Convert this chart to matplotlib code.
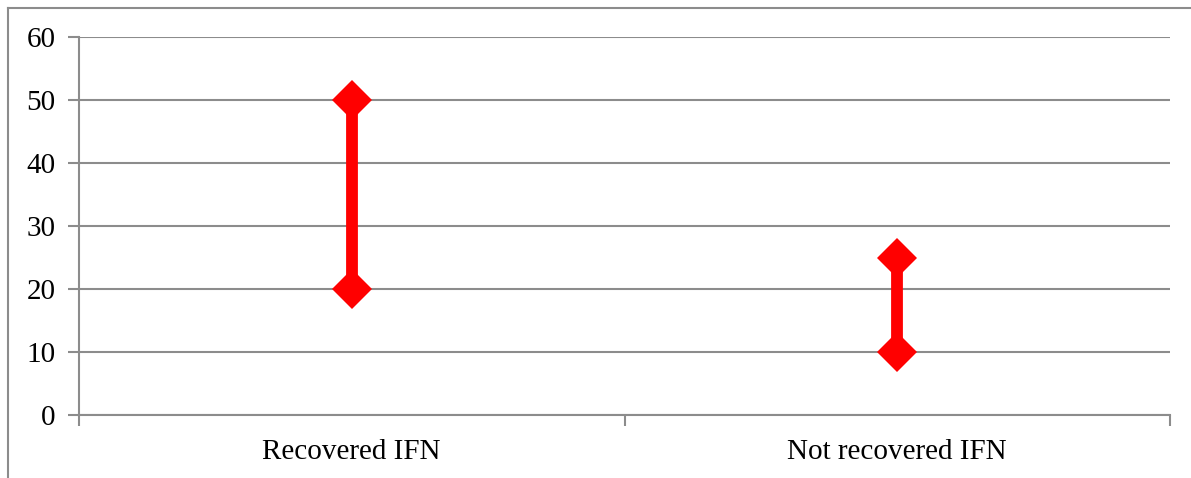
import numpy as np
import matplotlib.pyplot as plt
from matplotlib.lines import Line2D

categories = ['Recovered IFN', 'Not recovered IFN']
low_vals = [20, 10]
high_vals = [50, 25]
yticks = [0, 10, 20, 30, 40, 50, 60]

plt.rcParams['font.family'] = ['Liberation Serif', 'DejaVu Serif']

fig = plt.figure(figsize=(11.91, 4.78), dpi=100)
ax = fig.add_axes([79 / 1191, 1 - 415 / 478, (1170 - 79) / 1191, (415 - 37) / 478])

grey = '#8c8c8c'
x = np.arange(len(categories)) + 0.5
for xi, lo, hi in zip(x, low_vals, high_vals):
    ax.plot([xi, xi], [lo, hi], color='#ff0000', lw=8.5, solid_capstyle='butt', zorder=3)
    ax.plot([xi, xi], [lo, hi], ls='none', marker='D', ms=20, color='#ff0000',
            markeredgewidth=0, zorder=4)

ax.set_xlim(0, len(categories))
ax.set_ylim(0, 60)
ax.set_yticks(yticks)
ax.set_xticks(np.arange(len(categories) + 1))
ax.set_xticklabels([])
ax.set_xticks(x, minor=True)
ax.set_xticklabels(categories, minor=True)
ax.tick_params(axis='x', which='minor', length=0, pad=17, labelsize=21)
ax.tick_params(axis='x', which='major', length=8, color=grey, width=1.5, direction='out')
ax.tick_params(axis='y', length=8, color=grey, width=1.5, labelsize=21, pad=9)
ax.grid(axis='y', color=grey, lw=1.5)
for s in ['top', 'right']:
    ax.spines[s].set_visible(False)
for s in ['left', 'bottom']:
    ax.spines[s].set_color(grey)
    ax.spines[s].set_linewidth(1.5)

# outer chart frame
fig.add_artist(Line2D([8 / 1191, 8 / 1191], [0, 1 - 8 / 478], color=grey, lw=1.5))
fig.add_artist(Line2D([8 / 1191, 1], [1 - 8 / 478, 1 - 8 / 478], color=grey, lw=1.5))

fig.savefig('out.png', dpi=100)
